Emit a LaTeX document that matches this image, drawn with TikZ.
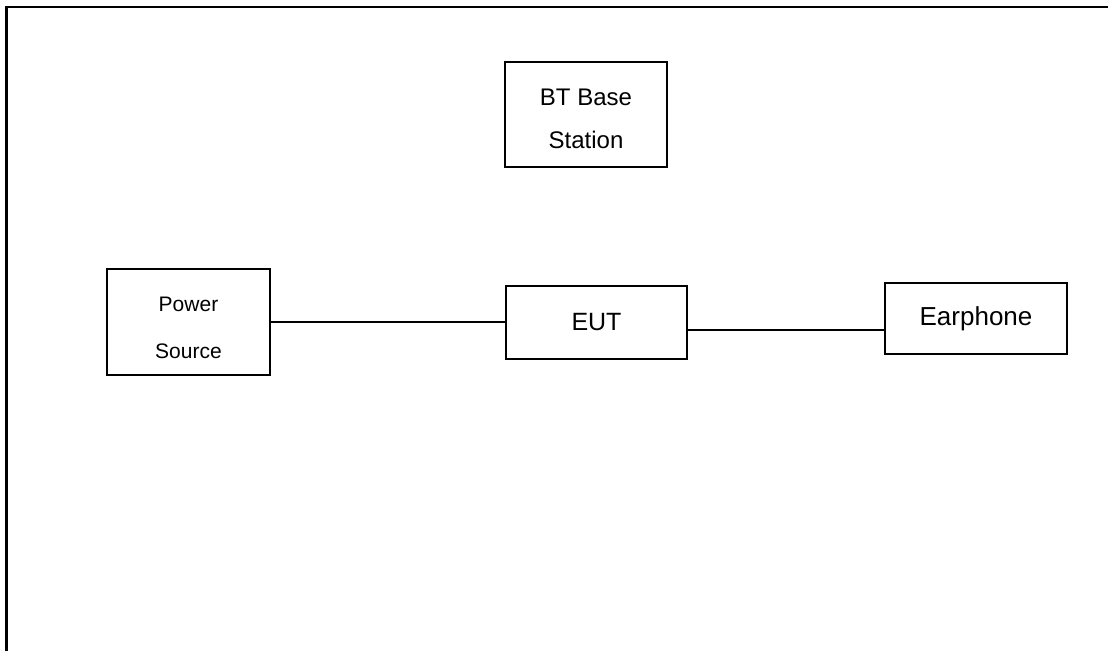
\documentclass[tikz,border=0pt]{standalone}
\usepackage{fontspec}
\setmainfont{Liberation Sans}
\usetikzlibrary{calc}

\begin{document}
\begin{tikzpicture}[x=1pt,y=-1pt]
\tikzset{
	box node/.style = {rectangle, draw, line width = 1.1pt, align = center, inner sep = 0},
	wire/.style = {line width = 1.5pt},
}
\useasboundingbox (0,0) rectangle (1108,651);
\draw [line width = 2.6pt] (6.5,651) -- (6.5,7) -- (1108,7);

\node(bt)[box node, minimum width = 162, minimum height = 105, font = \fontsize{24}{43}\selectfont] at (586,114.5) {\rule{0pt}{26pt}BT Base\\Station};
\node(ps)[box node, minimum width = 163, minimum height = 106, font = \fontsize{21}{47}\selectfont] at (188.5,322) {\rule{0pt}{27pt}Power\\Source};
\node(eut)[box node, minimum width = 181, minimum height = 73, font = \fontsize{25}{30}\selectfont] at (596.5,322.5) {EUT};
\node(ear)[box node, minimum width = 182, minimum height = 71, font = \fontsize{26}{30}\selectfont] at (976,318.5) {Earphone};

\draw [wire] (ps.east) -- (ps.east -| eut.west);
\coordinate (w) at ($(eut.east)+(0,7.5)$);
\draw [wire] (w) -- (w -| ear.west);

\end{tikzpicture}
\end{document}
